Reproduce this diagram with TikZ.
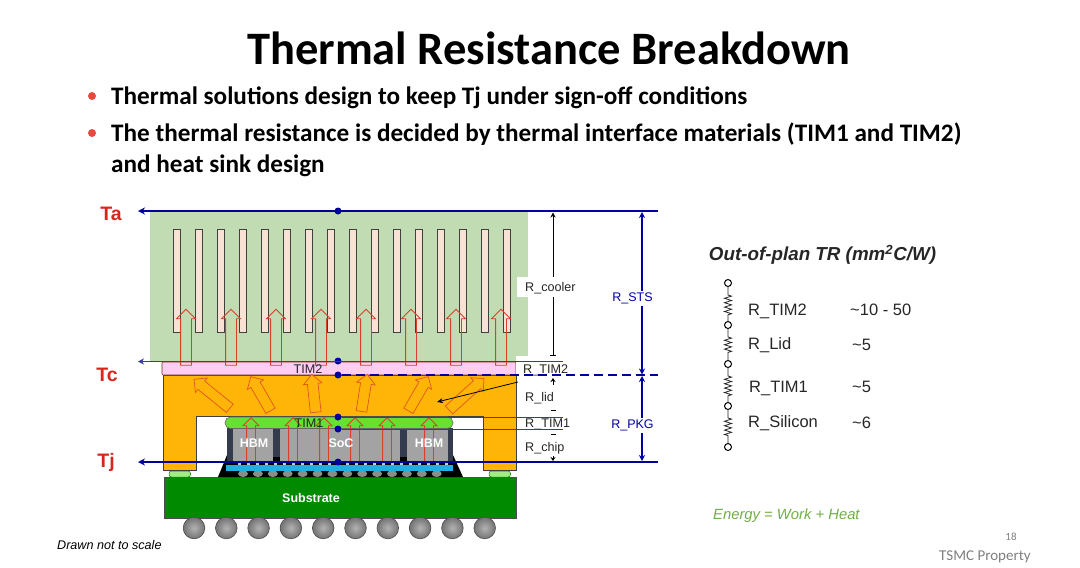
\documentclass[tikz,border=0pt]{standalone}
\usepackage{fontspec}
\usepackage{xcolor}
\setmainfont{Carlito}
\newfontfamily\arialfont{Liberation Sans}
\usetikzlibrary{shapes.arrows, arrows.meta, positioning, decorations.pathmorphing}
\definecolor{coolgreen}{HTML}{C1DCB2}
\definecolor{finpeach}{HTML}{F8E2D4}
\definecolor{timpink}{HTML}{FFCCF2}
\definecolor{lidorange}{HTML}{FFB508}
\definecolor{timgreen}{HTML}{66E033}
\definecolor{subgreen}{HTML}{008A00}
\definecolor{chipgray}{HTML}{A3A3A3}
\definecolor{chipdark}{HTML}{333B4C}
\definecolor{interblue}{HTML}{22AEE0}
\definecolor{linkblue}{HTML}{0000A0}
\definecolor{thinblue}{HTML}{3A3A9A}
\definecolor{heatred}{HTML}{D8402C}
\definecolor{labelred}{HTML}{D9261C}
\definecolor{bulletred}{HTML}{E8493F}
\definecolor{energygreen}{HTML}{70AD47}
\definecolor{footgray}{HTML}{7F7F7F}

\begin{document}
\begin{tikzpicture}[
  x=1pt, y=-1pt,
  fin/.style={draw=black!75, fill=finpeach, line width=0.6pt},
  riser/.style={single arrow, draw=heatred, line width=0.8pt, inner xsep=0pt, inner ysep=5pt,
                single arrow head extend=4pt, rotate=90},
  chiprise/.style={single arrow, draw=heatred, line width=0.8pt, inner xsep=0pt, inner ysep=4pt,
                   single arrow head extend=3.5pt, minimum height=45pt, rotate=90},
  fan/.style={single arrow, draw=heatred!70!orange, fill=lidorange, line width=0.7pt,
              inner xsep=0pt, inner ysep=5pt, single arrow head extend=4pt},
  level dot/.style={circle, fill=linkblue, inner sep=0pt, minimum size=7pt},
  thick link/.style={draw=linkblue, line width=1.8pt},
  thin link/.style={draw=thinblue, line width=0.7pt},
  blue arr/.style={-{Stealth[length=7pt,width=7pt]}, linkblue, line width=1.8pt},
  thin arr/.style={-{Stealth[length=6pt,width=6pt]}, thinblue, line width=0.8pt},
  dim/.style={{Stealth[length=6pt,width=6pt]}-{Stealth[length=6pt,width=6pt]}, linkblue, line width=1.5pt},
  dimline/.style={black, line width=0.6pt},
  rlabel/.style={font=\arialfont\fontsize{12.6}{14}\selectfont, text=black!85, anchor=west, inner sep=0pt},
  dimtag/.style={font=\arialfont\fontsize{12.5}{14}\selectfont, text=linkblue, fill=white, inner sep=2pt, xshift=-9.5pt},
  temp/.style={font=\arialfont\bfseries\fontsize{19.5}{22}\selectfont, text=labelred, inner sep=0pt},
  onchip/.style={font=\arialfont\bfseries\fontsize{12.5}{14}\selectfont, text=white, inner sep=0pt},
  rtag/.style={font=\arialfont\fontsize{16.5}{18}\selectfont, text=black!85, anchor=west, inner sep=0pt},
  bullettext/.style={font=\bfseries\fontsize{25.2}{31}\selectfont, anchor=north west, align=left, inner sep=0pt},
  bulletdot/.style={circle, fill=bulletred, inner sep=0pt, minimum size=8pt},
  terminal/.style={circle, draw=black, line width=1pt, fill=white, inner sep=0pt, minimum size=7pt},
  coil/.style={draw=black!85, line width=0.8pt, decorate,
               decoration={zigzag, segment length=4.4pt, amplitude=3.5pt, pre length=8pt, post length=6pt}},
]
  \useasboundingbox (0,0) rectangle (1080,568);

  % slide text
  \node[font=\bfseries\fontsize{46.5}{50}\selectfont, inner sep=0pt] (title) at (549,48) {Thermal Resistance Breakdown};
  \node[bullettext] (b1) at (111,87) {Thermal solutions design to keep Tj under sign-off conditions};
  \node[bullettext] (b2) at (111,123) {The thermal resistance is decided by thermal interface materials (TIM1 and TIM2)\\and heat sink design};
  \node[bulletdot] (d1) at (92,96) {};
  \node[bulletdot] (d2) at (92,133) {};

  % cooler
  \fill[coolgreen] (150,212) rectangle (528,361);
  \foreach \x in {173,195,...,503}
    \draw[fin] (\x,229) rectangle ++(7.5,103);

  % package
  \draw[draw=black!70, line width=0.6pt, fill=subgreen] (164,477) rectangle (516,518);
  \foreach \x in {194,226.3,...,486}
    \shade[draw=black!70, line width=0.6pt, inner color=black!30, outer color=black!55] (\x,528) circle (10.8);
  \fill[black] (218,477) -- (227,455) -- (453,455) -- (463,477) -- cycle;
  \foreach \x in {243,257.9,...,438}
    \fill[black!45] (\x,473.7) ellipse (5 and 3.3);
  \foreach \x in {238,247,...,445}
    \fill[interblue!45] (\x,462) rectangle ++(2.5,3.5);
  \fill[interblue] (226,465) rectangle (453,470.5);
  \fill[chipdark] (227,428) rectangle (453,462);
  \fill[black] (273,457) rectangle (280,462);
  \fill[black] (400,457) rectangle (407,462);
  \fill[chipgray] (233,428) rectangle (273,462);
  \fill[chipgray] (280,428) rectangle (400,462);
  \fill[chipgray] (407,428) rectangle (448,462);
  \draw[draw=black!75, line width=0.6pt, fill=lidorange]
    (163,375) -- (516,375) -- (516,470) -- (483,470) -- (483,416.5)
    -- (196,416.5) -- (196,470) -- (163,470) -- cycle;
  \draw[draw=heatred!60!black, line width=0.6pt, fill=timpink, rounded corners=1pt] (162,362) rectangle (516,375);
  \draw[draw=black!60, line width=0.6pt, fill=timgreen, rounded corners=5.5pt] (225,417) rectangle (453,428.5);
  \foreach \x in {169,489}
    \draw[draw=black!50!green, line width=0.5pt, fill=timgreen!60, rounded corners=2.5pt] (\x,471) rectangle ++(21.5,6);

  % heat flow
  \foreach \x in {186,231,...,501}
    \node[riser, minimum height=56pt] (rise\x) at (\x,340) {};
  \foreach \n/\x/\y/\ang/\len in {a/214/395.5/141/46, b/262/396/120/39.5, c/314/396/96/38,
                                  d/364/395.5/81/37.5, e/417/396/60/39.5, f/464.5/396/42/47}
    \node[fan, minimum height=\len pt, rotate=\ang] (fan\n) at (\x,\y) {};
  \foreach \x in {251,293,324,355,387,429}
    \node[chiprise] (chip\x) at (\x,442.5) {};

  \node[onchip] (hbmL) at (254,443.5) {HBM};
  \node[onchip] (soc) at (341,443.5) {SoC};
  \node[onchip] (hbmR) at (429,443.5) {HBM};
  \node[onchip] (sub) at (311,498.5) {Substrate};
  \node[font=\arialfont\fontsize{12.6}{14}\selectfont, text=black!85, inner sep=0pt] (tim2) at (308,369) {TIM2};
  \node[font=\arialfont\fontsize{12.6}{14}\selectfont, text=black!85, inner sep=0pt] (tim1) at (309,423) {TIM1};

  % resistance labels on the right of the stack
  \node[fill=white, minimum width=61pt, minimum height=20pt, inner sep=0pt] (coolBox) at (547.5,287) {};
  \fill[white] (516,356) rectangle (570,374.4);
  \draw[dimline, {Stealth[length=5pt,width=5pt]}-] (553,212.5) -- (553,277);
  \draw[dimline, -|] (553,297) -- (553,355.5);
  \node[rlabel] (rCool) at (525,288) {R\_cooler};
  \node[rlabel] (rTim2) at (523,370) {R\_TIM2};
  \node[rlabel] (rLid) at (525,398) {R\_lid};
  \node[rlabel] (rTim1) at (525,424) {R\_TIM1};
  \node[rlabel] (rChip) at (525,448) {R\_chip};
  \draw[dimline, {Stealth[length=4pt,width=5pt]}-] (553,378) -- (553,385);
  \draw[dimline] (550.5,410) -- (555.5,410);
  \draw[dimline, line width=0.3pt] (550.5,434) -- (555.5,434);
  \draw[dimline, -{Stealth[length=4pt,width=5pt]}] (553,456) -- (553,461);
  \coordinate (lidFrom) at (518,382);
  \coordinate (lidTo) at (437,402);
  \draw[dimline, line width=0.8pt, -{Stealth[length=6pt,width=5pt]}] (lidFrom) -- (lidTo);

  % temperature levels
  \node[level dot] (taDot) at (338,211) {};
  \node[level dot] (tcDot) at (338,361) {};
  \node[level dot] (tcLid) at (338,375) {};
  \node[level dot] (t1Top) at (338,417) {};
  \node[level dot] (t1Bot) at (338,429) {};
  \node[level dot] (tjDot) at (338,462) {};
  \coordinate (taL) at (138,211);
  \coordinate (taR) at (658,211);
  \coordinate (tcL) at (138,361.5);
  \coordinate (tcR) at (563,361.5);
  \coordinate (lidR) at (658,375);
  \coordinate (t1TopR) at (563,417);
  \coordinate (t1BotR) at (563,429);
  \coordinate (tjL) at (138,462);
  \coordinate (tjR) at (658,462);
  \draw[blue arr] (taR) -- (taL);
  \draw[thin arr] (tcR) -- (tcL);
  \draw[thick link, dash pattern=on 9pt off 5pt] (tcLid) -- (lidR);
  \draw[thin link] (t1Top) -- (t1TopR);
  \draw[thin link] (t1Bot) -- (t1BotR);
  \draw[blue arr] (tjR) -- (tjL);

  \coordinate (stsTop) at (642,212);
  \coordinate (stsBot) at (642,374.5);
  \coordinate (pkgTop) at (642,376);
  \coordinate (pkgBot) at (642,461);
  \draw[dim] (stsTop) -- node[dimtag, pos=0.53] (rSts) {R\_STS} (stsBot);
  \draw[dim] (pkgTop) -- node[dimtag, pos=0.58] (rPkg) {R\_PKG} (pkgBot);

  \node[temp] (ta) at (111,213.5) {Ta};
  \node[temp] (tc) at (107,375) {Tc};
  \node[temp] (tj) at (106,462) {Tj};
  \node[font=\arialfont\itshape\fontsize{12.6}{14}\selectfont, anchor=west, inner sep=0pt] (scale) at (57,545) {Drawn not to scale};

  % series network
  \node[font=\arialfont\bfseries\itshape\fontsize{18.8}{22}\selectfont, text=black!85, inner sep=0pt] (oop) at (822.5,255) {Out-of-plan TR (mm\textsuperscript{2}C/W)};
  \node[terminal] (p1) at (728,283) {};
  \node[terminal] (p2) at (728,325) {};
  \node[terminal] (p3) at (728,364) {};
  \node[terminal] (p4) at (728,406) {};
  \node[terminal] (p5) at (728,447) {};
  \draw[coil] (p1) -- (p2);
  \draw[coil] (p2) -- (p3);
  \draw[coil] (p3) -- (p4);
  \draw[coil] (p4) -- (p5);
  \node[rtag] (nTim2) at (748,311.5) {R\_TIM2};
  \node[rtag] (nLid) at (748,345.5) {R\_Lid};
  \node[rtag] (nTim1) at (749,388.5) {R\_TIM1};
  \node[rtag] (nSi) at (748,423.5) {R\_Silicon};
  \node[rtag] (v1) at (850,310) {\textasciitilde10 - 50};
  \node[rtag] (v2) at (852,345) {\textasciitilde5};
  \node[rtag] (v3) at (852,387) {\textasciitilde5};
  \node[rtag] (v4) at (852,423) {\textasciitilde6};

  \node[font=\arialfont\itshape\fontsize{14.8}{17}\selectfont, text=energygreen, anchor=west, inner sep=0pt] (energy) at (713,515.5) {Energy = Work + Heat};
  \node[font=\fontsize{11}{13}\selectfont, text=footgray, inner sep=0pt] (page) at (1011,537) {18};
  \node[font=\fontsize{15}{17}\selectfont, text=footgray, anchor=west, inner sep=0pt] (prop) at (939,556.5) {TSMC Property};
\end{tikzpicture}
\end{document}
